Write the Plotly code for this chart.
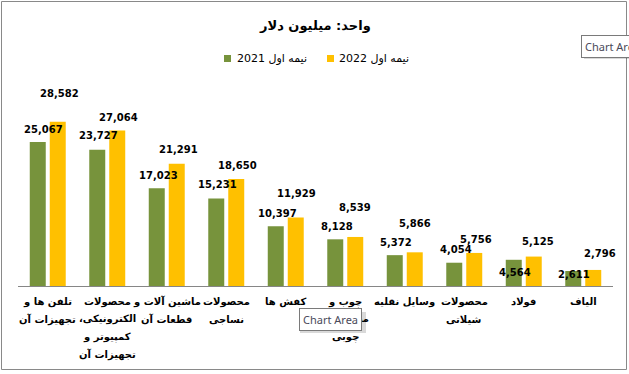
import plotly.graph_objects as go

# ---------------- data ----------------
categories = [
    "تلفن ها و<br>تجهیزات آن",
    "محصولات<br>الکترونیکی،\u200f<br>کمپیوتر و<br>تجهیزات آن",
    "ماشین آلات و<br>قطعات آن",
    "محصولات<br>نساجی",
    "کفش ها",
    "چوب و<br>محصولات<br>چوبی",
    "وسایل نقلیه",
    "محصولات<br>شیلاتی",
    "فولاد",
    "الیاف",
]
values_2021 = [25067, 23727, 17023, 15231, 10397, 8128, 5372, 4054, 4564, 2611]
values_2022 = [28582, 27064, 21291, 18650, 11929, 8539, 5866, 5756, 5125, 2796]
series_2021 = "نیمه اول 2021"
series_2022 = "نیمه اول 2022"
title_text = "واحد: میلیون دلار"

# ---------------- style ----------------
GREEN = "#77933C"
YELLOW = "#FFC000"
W, H = 629, 374
ML, MR, MT, MB = 18, 16, 85, 88
PW = W - ML - MR
PH = H - MT - MB

# label offsets in pixels (relative to bar top centre)
dy_2021 = [13, 14, 13, 14, 13, 13, 13, 13, -13, -3]
dx_2021 = [6, 1.5, 1.5, 1.5, 1.5, 1.5, 1.5, 1.5, 1.5, 1]
dy_2022 = [28, 13, 14, 13, 24, 29, 29, 13, 15, 16]
dx_2022 = [2, 1.5, 1.5, 1.5, 1, 0, 0, 1.5, 4.5, 6.5]
CAT_FIRST_LINE = 15.7   # px below axis
CAT_LINE_STEP = 17.5    # px between lines


def X(px):
    return (px - ML) / PW


def Y(py):
    return (H - MB - py) / PH


AR_FONT = "Tahoma, DejaVu Sans, sans-serif"

fig = go.Figure()
fig.add_trace(go.Bar(x=categories, y=values_2021, name=series_2021,
                     marker=dict(color=GREEN, line=dict(width=0)), showlegend=False))
fig.add_trace(go.Bar(x=categories, y=values_2022, name=series_2022,
                     marker=dict(color=YELLOW, line=dict(width=0)), showlegend=False))

annotations = []
LBL_FONT = dict(family=AR_FONT, size=10, color="#000000", weight="bold")
for i, c in enumerate(categories):
    annotations.append(dict(x=c, y=values_2021[i], xref="x", yref="y",
                            text=f"{values_2021[i]:,}", showarrow=False,
                            xshift=-10 + dx_2021[i], yshift=dy_2021[i],
                            yanchor="middle", xanchor="center", font=LBL_FONT))
    annotations.append(dict(x=c, y=values_2022[i], xref="x", yref="y",
                            text=f"{values_2022[i]:,}", showarrow=False,
                            xshift=10 + dx_2022[i], yshift=dy_2022[i],
                            yanchor="middle", xanchor="center", font=LBL_FONT))
    # category label, one annotation per line to control line spacing
    for k, line in enumerate(c.split("<br>")):
        annotations.append(dict(x=c, y=0, xref="x", yref="y", text=line,
                                showarrow=False, xanchor="center", yanchor="middle",
                                yshift=-(CAT_FIRST_LINE + CAT_LINE_STEP * k),
                                font=dict(family=AR_FONT, size=10, color="#000000",
                                          weight="bold")))

# title
annotations.append(dict(x=X(315), y=Y(25.7), xref="paper", yref="paper", text=title_text,
                        showarrow=False, xanchor="center", yanchor="middle",
                        font=dict(family=AR_FONT, size=13, color="#000000", weight="bold")))
# legend texts
annotations.append(dict(x=X(235), y=Y(58.5), xref="paper", yref="paper", text=series_2021,
                        showarrow=False, xanchor="left", yanchor="middle",
                        font=dict(family=AR_FONT, size=11, color="#000000")))
annotations.append(dict(x=X(337), y=Y(58.5), xref="paper", yref="paper", text=series_2022,
                        showarrow=False, xanchor="left", yanchor="middle",
                        font=dict(family=AR_FONT, size=11, color="#000000")))

# "Chart Area" tooltips (as seen in the screenshot)
TIP_FONT = dict(family="Noto Sans, Open Sans, sans-serif", size=11, color="#4a4a5a")
annotations.append(dict(x=X(581), y=Y(47), xref="paper", yref="paper", text="Chart Area",
                        showarrow=False, xanchor="left", yanchor="middle",
                        bgcolor="#ffffff", bordercolor="#7a7a7a", borderwidth=1, borderpad=3,
                        font=TIP_FONT))
annotations.append(dict(x=X(330), y=Y(319.5), xref="paper", yref="paper", text="Chart Area",
                        showarrow=False, xanchor="center", yanchor="middle",
                        bgcolor="#ffffff", bordercolor="#7a7a7a", borderwidth=1, borderpad=3,
                        font=TIP_FONT))

shapes = [
    # chart-area border
    dict(type="rect", xref="paper", yref="paper", x0=X(1.5), x1=X(626.5), y0=Y(369.5), y1=Y(1.5),
         line=dict(color="#898989", width=1), fillcolor="rgba(0,0,0,0)", layer="below"),
    # legend keys
    dict(type="rect", xref="paper", yref="paper", x0=X(224), x1=X(231), y0=Y(62), y1=Y(55),
         line=dict(width=0), fillcolor=GREEN),
    dict(type="rect", xref="paper", yref="paper", x0=X(327), x1=X(334), y0=Y(62), y1=Y(55),
         line=dict(width=0), fillcolor=YELLOW),
    # tooltip shadows
    dict(type="rect", xref="paper", yref="paper", x0=X(584), x1=X(640), y0=Y(59), y1=Y(40),
         line=dict(width=0), fillcolor="rgba(0,0,0,0.15)"),
    dict(type="rect", xref="paper", yref="paper", x0=X(300), x1=X(366), y0=Y(333), y1=Y(312),
         line=dict(width=0), fillcolor="rgba(0,0,0,0.15)"),
]

fig.update_layout(
    width=W, height=H,
    margin=dict(l=ML, r=MR, t=MT, b=MB, pad=0, autoexpand=False),
    paper_bgcolor="#ffffff", plot_bgcolor="#ffffff",
    barmode="group", bargap=0.328, bargroupgap=0.2,
    showlegend=False,
    xaxis=dict(type="category", showline=True, linecolor="#868686", linewidth=1,
               showgrid=False, zeroline=False, ticks="", showticklabels=False,
               range=[-0.5, 9.5], automargin=False),
    yaxis=dict(range=[0, 35000], visible=False, showgrid=False, zeroline=False,
               automargin=False),
    annotations=annotations,
    shapes=shapes,
)

fig.write_html("out.html", config={"displayModeBar": False},
               post_script="document.body.style.margin='0';document.body.style.overflow='hidden';")
